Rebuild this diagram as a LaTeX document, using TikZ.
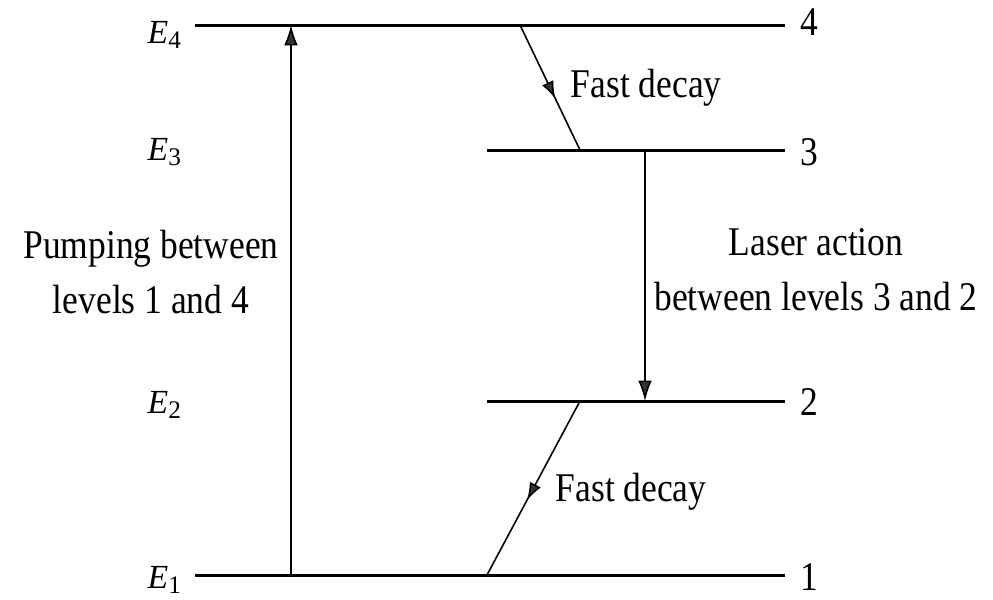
\documentclass[tikz,border=0pt]{standalone}
\usepackage{fontspec}
\setmainfont{Liberation Serif}
\newfontfamily\narrowserif{Liberation Serif}[FakeStretch=0.87]
\usetikzlibrary{arrows.meta,decorations.markings}

\newcommand{\lev}[1]{\textit{E}\raisebox{-1.5pt}{\fontsize{7.2}{8}\selectfont #1}}

\tikzset{
  level/.style={line width=0.85pt},
  trans/.style={line width=0.45pt, -{Latex[length=5.8pt,width=3.9pt,fill=black!80]}},
  decay/.style={line width=0.45pt,
    decoration={markings, mark=at position #1 with {\arrow{Latex[length=5pt,width=3.5pt,fill=black!80]}}},
    postaction=decorate},
  txt/.style={font=\narrowserif\fontsize{11.6}{15.6}\selectfont, inner sep=0pt},
  lbl/.style={font=\fontsize{9.6}{11}\selectfont, inner sep=0pt},
}

\begin{document}
\begin{tikzpicture}[x=0.01cm,y=-0.01cm]
\useasboundingbox (0,0) rectangle (993,599);

% energy levels
\coordinate (l4a) at (195,25);  \coordinate (l4b) at (785,25);
\coordinate (l3a) at (487,150); \coordinate (l3b) at (785,150);
\coordinate (l2a) at (487,401); \coordinate (l2b) at (785,401);
\coordinate (l1a) at (195,575); \coordinate (l1b) at (785,575);
\draw[level] (l4a) -- (l4b);
\draw[level] (l3a) -- (l3b);
\draw[level] (l2a) -- (l2b);
\draw[level] (l1a) -- (l1b);

\node[lbl, anchor=base west] (e4) at (147,43) {\lev{4}};
\node[lbl, anchor=base west] (e3) at (147,160) {\lev{3}};
\node[lbl, anchor=base west] (e2) at (147,413) {\lev{2}};
\node[lbl, anchor=base west] (e1) at (147,588) {\lev{1}};

\node[txt] (n4) at (809,22) {4};
\node[txt] (n3) at (809,152) {3};
\node[txt] (n2) at (809,402) {2};
\node[txt] (n1) at (809,577) {1};

% pumping
\coordinate (p1) at (291,575);
\coordinate (p4) at (291,25);
\draw[trans] (p1) -- (p4);
\node[txt, align=center] (pump) at (151,272) {Pumping between\\levels 1 and 4};

% laser
\coordinate (s3) at (645,150);
\coordinate (s2) at (645,401);
\draw[trans] (s3) -- (s2);
\node[txt, align=center] (laser) at (816,270) {Laser action\\between levels 3 and 2};

% fast decays
\coordinate (d4) at (520,25);
\coordinate (d3) at (580,150);
\draw[decay=0.59] (d4) -- (d3);
\node[txt, anchor=west] (fd1) at (570,88) {Fast decay};

\coordinate (d2) at (580,401);
\coordinate (d1) at (487,575);
\draw[decay=0.57] (d2) -- (d1);
\node[txt, anchor=west] (fd2) at (555,492) {Fast decay};

\end{tikzpicture}
\end{document}
